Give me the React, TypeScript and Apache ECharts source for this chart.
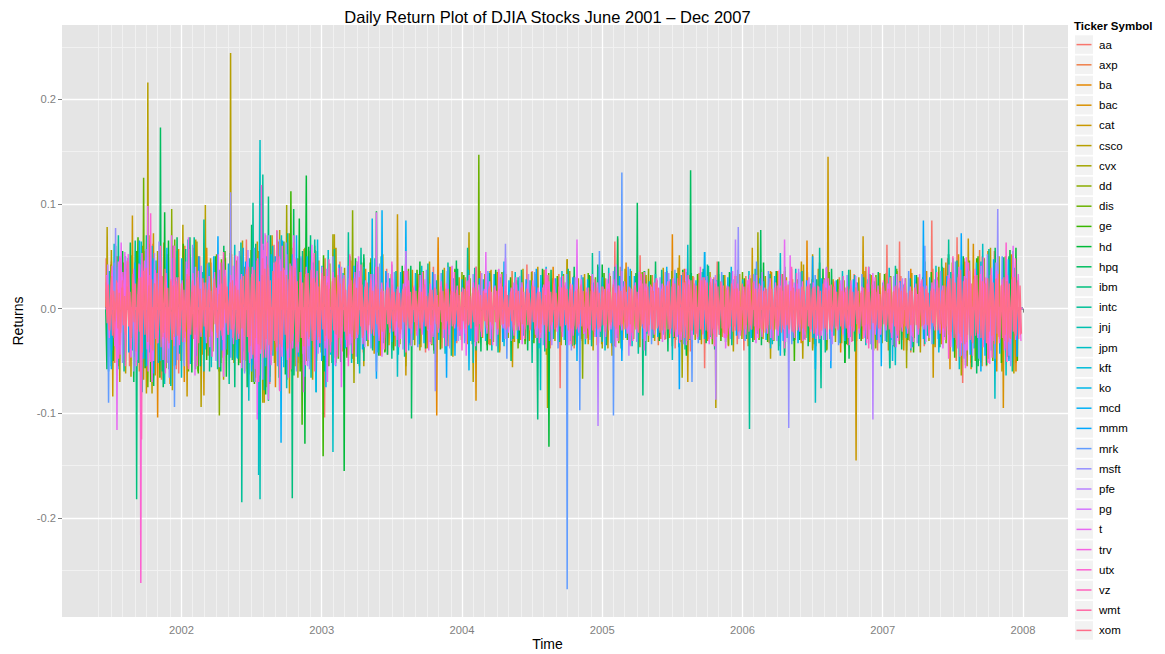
import React, { useEffect, useRef } from "react";
import * as echarts from "echarts";

// ---------- DATA ----------
const tickers = ["aa","axp","ba","bac","cat","csco","cvx","dd","dis","ge","hd","hpq","ibm","intc","jnj","jpm","kft","ko","mcd","mmm","mrk","msft","pfe","pg","t","trv","utx","vz","wmt","xom"];
const xTickYears = [2002, 2003, 2004, 2005, 2006, 2007, 2008];
const yTickValues = [-0.2, -0.1, 0, 0.1, 0.2];
const yMinorValues = [-0.25, -0.15, -0.05, 0.05, 0.15, 0.25];

// dense series (returns in thousandths)
const xomDense = [
18,-14,23,-21,13,-26,17,-12,27,-19,15,-23,20,-16,12,-25,21,-17,16,-28,19,-13,24,-20,14,-22,
30,-42,36,-25,39,-32,22,-35,28,-40,24,-29,34,-21,27,-37,31,-23,38,-28,20,-33,26,-30,22,-27,
21,-26,30,-17,24,-32,18,-22,28,-20,31,-25,16,-29,22,-18,26,-33,19,-23,29,-17,25,-21,18,-27,
17,-22,25,-15,20,-28,14,-21,24,-18,29,-14,21,-25,17,-20,27,-15,22,-30,18,-24,28,-19,31,-26,
33,-27,40,-36,30,-44,37,-28,46,-34,26,-39,32,-47,38,-29,42,-35,27,-40,36,-31,45,-37,29,-34,
36,-30,39,-25,32,-38,28,-33,41,-24,31,-37,26,-32,35,-28,25,-36,30,-22,34,-27,24,-31,29,-21,
25,-30,21,-33,28,-20,31,-26,22,-29,19,-32,26,-21,30,-25,20,-28,24,-17,29,-22,18,-26,21,-24,
27,-21,24,-29,20,-25,30,-17,23,-26,18,-21,25,-16,20,-24,17,-22,21,-15,19,-20,16,-22,17,-19,
18,-15,20,-19,14,-22,16,-12,19,-18,15,-20,17,-13,21,-16,12,-19,16,-14,20,-13,17,-16,15,-19,
16,-13,19,-17,12,-20,15,-16,18,-12,20,-15,13,-19,16,-13,17,-20,15,-12,19,-16,13,-17,16,-15,
15,-17,13,-20,16,-12,19,-15,17,-16,12,-19,15,-13,20,-17,16,-15,13,-19,17,-12,15,-16,19,-13,
16,-15,20,-13,17,-19,12,-16,21,-15,17,-20,13,-17,16,-12,19,-16,15,-21,17,-13,20,-15,16,-17,
19,-16,15,-20,17,-13,21,-17,15,-19,16,-15,20,-16,13,-17,19,-22,16,-13,17,-20,15,-16,21,-17,
20,-17,22,-16,19,-21,15,-19,23,-17,16,-20,19,-15,21,-17,17,-22,15,-19,20,-16,17,-21,16,-19,
17,-20,15,-17,21,-16,19,-15,17,-21,16,-13,20,-17,15,-19,22,-16,17,-15,19,-20,16,-17,21,-15,
19,-17,22,-20,16,-23,20,-17,24,-19,17,-22,21,-16,23,-20,17,-21,25,-19,20,-23,17,-21,22,-19,
22,-20,26,-19,21,-27,24,-20,29,-25,32,-22,35,-28,26,-31,23,-29,27,-21,30,-25,22,-27,25,-20,
27,-24,30,-21,25,-29,22,-26,28,-20,24,-27,21,-25,26,-19,22,-24,20,-26,21,-17,24,-22,19,-21,
20,-22,17,-21,24,-19,21,-16,20,-22,17,-20,25,-17,19,-21,16,-19,22,-20,17,-23,19,-16,21,-20,
19,-21,16,-20,22,-17,20,-23,17,-19,21,-16,23,-20,17,-22,20,-17,16,-21,19,-15,20,-19,17,-22,
21,-17,23,-20,19,-24,21,-19,22,-25,17,-21,24,-19,20,-22,17,-20,23,-17,21,-19,16,-20,19,-17,
17,-20,15,-19,21,-16,19,-17,16,-21,20,-15,17,-19,15,-17,20,-16,19,-15,16,-20,17,-14,19,-16,
16,-19,14,-17,20,-15,17,-16,15,-20,19,-14,16,-17,22,-25,19,-21,17,-15,20,-17,15,-19,17,-16,
17,-15,20,-16,14,-19,16,-17,21,-15,19,-16,15,-20,17,-14,19,-17,16,-21,20,-15,17,-19,22,-17,
21,-25,29,-22,33,-28,25,-35,30,-24,37,-31,26,-34,29,-25,36,-30,24,-33,28,-26,32,-24,29,-28,
26,-30,24,-33,29,-22,32,-26,25,-34,28,-24,33,-29,22,-28,30,-25,26,-32,24,-29,28,-22,30,-26,
25,-29,22,-24
];
const wmtDense = [
25,-20,31,-28,18,-35,27,-22,45,-38,33,-41,29,-30,36,-25,32,-39,24,-33,40,-27,22,-31,28,-24,
26,-30,21,-28,33,-19,27,-25,30,-22,19,-27,24,-20,29,-23,18,-26,31,-21,25,-28,20,-24,27,-22,
38,-42,33,-47,40,-35,48,-39,31,-44,36,-33,42,-37,30,-40,35,-31,39,-34,28,-36,33,-29,37,-30,
30,-27,34,-31,25,-35,29,-24,32,-28,26,-30,23,-27,29,-22,25,-28,21,-24,27,-20,23,-25,19,-22,
20,-18,23,-21,17,-24,19,-16,22,-19,18,-21,16,-20,23,-17,19,-22,15,-18,21,-16,19,-20,17,-15,
18,-21,16,-19,22,-15,20,-17,18,-22,15,-19,21,-16,17,-20,19,-15,22,-18,16,-21,18,-17,20,-16,
19,-17,22,-20,16,-23,18,-19,21,-16,24,-18,17,-22,20,-15,19,-21,17,-18,23,-19,16,-20,18,-22,
20,-18,17,-22,19,-16,23,-20,18,-17,21,-19,16,-23,20,-18,22,-15,19,-21,17,-20,24,-17,19,-18,
21,-19,24,-22,18,-25,20,-17,23,-21,19,-24,17,-20,22,-18,25,-19,21,-16,20,-23,18,-19,22,-17,
19,-21,17,-20,23,-16,21,-18,19,-22,16,-19,24,-17,20,-21,18,-16,22,-19,17,-23,19,-18,21,-20,
22,-18,20,-24,17,-21,23,-19,18,-22,21,-17,19,-20,16,-23,22,-18,20,-19,17,-21,19,-16,23,-20,
18,-20,22,-17,19,-23,17,-21,20,-18,24,-19,17,-22,19,-20,21,-16,18,-23,20,-17,22,-19,18,-21,
26,-30,28,-24,33,-27,25,-32,29,-26,31,-23,27,-30,24,-28,32,-25,29,-27,23,-31,26,-28,30,-24,
27,-25
];
const trvDense = [
32,-28,41,-36,25,-44,35,-30,52,-47,38,-55,43,-35,46,-39,30,-42,37,-33,45,-29,34,-38,27,-36,
30,-35,27,-32,38,-24,34,-29,36,-27,25,-33,31,-26,35,-28,23,-30,37,-25,32,-34,26,-29,33,-27,
45,-52,40,-58,48,-43,56,-47,39,-54,44,-41,50,-46,37,-49,43,-38,47,-42,35,-44,40,-36,45,-37,
36,-33,40,-38,31,-42,35,-30,39,-34,32,-37,29,-33,35,-28,31,-34,27,-30,33,-26,29,-31,25,-28,
25,-23,28,-26,21,-29,24,-20,27,-24,22,-26,20,-25,28,-21,24,-27,19,-23,26,-20,24,-25,21,-19,
22,-26,20,-24,27,-19,25,-21,23,-27,19,-24,26,-20,22,-25,24,-19,27,-23,20,-26,23,-21,25,-20,
24,-21,27,-25,20,-28,23,-24,26,-20,29,-22,21,-27,25,-19,24,-26,21,-23,28,-24,20,-25,23,-27,
25,-22,21,-27,24,-20,28,-25,22,-21,26,-24,20,-28,25,-22,27,-19,24,-26,21,-25,29,-21,24,-22,
26,-24,29,-27,22,-30,25,-21,28,-26,24,-29,21,-25,27,-22,30,-24,26,-20,25,-28,22,-24,27,-21,
24,-26,21,-25,28,-20,26,-23,24,-27,20,-24,29,-21,25,-26,22,-20,27,-24,21,-28,24,-22,26,-25,
27,-22,25,-29,21,-26,28,-24,22,-27,26,-21,24,-25,20,-28,27,-22,25,-24,21,-26,24,-20,28,-25,
22,-25,27,-21,24,-28,21,-26,25,-22,29,-24,21,-27,24,-25,26,-20,22,-28,25,-21,27,-24,22,-26,
32,-37,35,-30,40,-33,31,-39,36,-32,38,-28,33,-37,30,-34,39,-31,36,-33,28,-38,32,-34,37,-30,
33,-31
];

// notable daily moves [decimal year, return in thousandths]
const aaMoves = [[2001.52,-48],[2001.6,42],[2001.74,55],[2001.98,-62],[2002.12,50],[2002.21,44],[2002.47,-58],[2002.56,-119],[2002.66,61],[2002.83,-52],[2003.02,-104],[2003.2,47],[2003.47,-44],[2003.74,-42],[2004.27,-40],[2004.5,36],[2004.7,-76],[2005.09,64],[2005.27,51],[2005.52,-38],[2005.73,-57],[2005.82,45],[2006.01,-40],[2006.35,38],[2006.73,-50],[2007.03,61],[2007.12,64],[2007.35,84],[2007.53,68],[2007.57,-71],[2007.71,50],[2007.9,-48]];
const axpMoves = [[2001.5,45],[2001.71,-75],[2001.77,62],[2002.0,-50],[2002.3,42],[2002.53,-66],[2002.6,70],[2002.75,-58],[2002.92,55],[2003.18,-45],[2003.4,40],[2003.9,-36],[2004.3,35],[2004.8,-38],[2005.11,67],[2005.4,-35],[2005.95,33],[2006.5,-38],[2006.88,40],[2007.2,-42],[2007.58,48],[2007.74,-55],[2007.95,-52]];
const baMoves = [[2001.53,38],[2001.7,-60],[2001.83,-104],[2001.9,52],[2002.02,-70],[2002.18,58],[2002.4,-45],[2002.55,55],[2002.67,-75],[2002.85,48],[2003.1,-52],[2003.3,44],[2003.82,-102],[2003.83,68],[2004.2,-35],[2004.65,40],[2005.17,44],[2005.5,71],[2005.9,-36],[2006.46,65],[2006.7,-42],[2007.2,38],[2007.6,-45],[2007.95,-60]];
const bacMoves = [[2001.58,42],[2001.73,-68],[2001.95,48],[2002.15,-44],[2002.45,40],[2002.56,-72],[2002.7,66],[2002.9,-50],[2003.25,45],[2003.6,-38],[2004.1,-88],[2004.26,37],[2004.9,-34],[2005.3,33],[2005.64,-40],[2006.2,36],[2006.6,-32],[2007.15,-40],[2007.45,44],[2007.63,-58],[2007.75,55],[2007.86,-95],[2007.92,50]];
const catMoves = [[2001.51,-84],[2001.65,89],[2001.75,-81],[2001.8,72],[2002.04,-84],[2002.16,-83],[2002.35,55],[2002.59,-90],[2002.77,-81],[2002.95,60],[2003.22,-48],[2003.54,90],[2003.6,-64],[2004.36,-56],[2004.75,47],[2005.55,51],[2005.61,-70],[2006.07,58],[2006.42,45],[2006.61,145],[2006.81,-145],[2006.86,69],[2007.36,-66],[2007.61,67],[2007.8,-50]];
const cscoMoves = [[2001.47,78],[2001.5,56],[2001.56,-70],[2001.64,-65],[2001.76,216],[2001.79,-81],[2002.01,80],[2002.14,-94],[2002.17,99],[2002.3,-68],[2002.35,244],[2002.45,-60],[2002.7,75],[2002.83,-66],[2003.09,71],[2003.3,-55],[2003.6,-55],[2004.05,73],[2004.08,-70],[2004.75,47],[2005.07,-45],[2005.81,-95],[2006.2,-48],[2006.43,-48],[2006.5,52],[2007.17,-40],[2007.85,-60]];
const cvxMoves = [[2001.55,-55],[2001.72,60],[2001.92,-58],[2002.11,64],[2002.28,-52],[2002.58,-90],[2002.75,99],[2003.08,71],[2003.23,-71],[2003.7,-40],[2004.2,36],[2004.61,-95],[2005.0,-38],[2005.57,-66],[2006.11,73],[2006.5,-40],[2007.17,-57],[2007.56,-64],[2007.9,48]];
const ddMoves = [[2001.6,50],[2001.8,-66],[2001.93,95],[2002.1,-55],[2002.27,-102],[2002.42,50],[2002.63,-65],[2002.88,58],[2003.22,94],[2003.5,-38],[2004.0,35],[2004.86,-67],[2005.33,38],[2005.9,-35],[2006.3,36],[2006.95,-38],[2007.4,40],[2007.7,-52]];
const disMoves = [[2001.56,48],[2001.73,125],[2001.76,-75],[2002.05,-60],[2002.25,52],[2002.5,-70],[2002.73,64],[2003.05,-55],[2003.35,48],[2003.8,-40],[2004.12,147],[2004.4,-38],[2004.9,34],[2005.5,-36],[2006.0,35],[2006.6,-40],[2007.1,38],[2007.66,-50],[2007.88,45]];
const geMoves = [[2001.54,-52],[2001.69,68],[2001.78,-70],[2001.94,60],[2002.12,-62],[2002.31,55],[2002.52,-72],[2002.78,112],[2002.86,-111],[2003.01,-141],[2003.2,50],[2003.45,-42],[2003.95,38],[2004.45,-34],[2005.3,36],[2006.37,-50],[2006.73,-52],[2007.22,-42],[2007.67,48],[2007.96,-50]];
const hdMoves = [[2001.58,55],[2001.72,-75],[2001.88,92],[2002.1,-58],[2002.32,-65],[2002.6,-82],[2002.84,86],[2002.88,-129],[2002.89,127],[2003.16,-155],[2003.39,93],[2003.7,45],[2004.18,-40],[2004.62,-132],[2005.0,42],[2005.6,-45],[2006.15,44],[2006.73,-52],[2007.3,45],[2007.68,-55],[2007.95,58]];
const hpqMoves = [[2001.53,60],[2001.66,-70],[2001.85,173],[2001.87,-75],[2002.06,68],[2002.28,-60],[2002.5,80],[2002.62,-88],[2002.8,95],[2003.02,-60],[2003.3,52],[2003.64,-105],[2003.96,46],[2004.35,-50],[2004.8,40],[2005.11,69],[2005.25,101],[2005.38,45],[2005.63,132],[2005.83,45],[2006.13,75],[2006.3,-45],[2006.76,-48],[2007.47,52],[2007.67,-62],[2007.9,50]];
const ibmMoves = [[2001.5,-55],[2001.68,-182],[2001.75,70],[2001.97,55],[2002.2,-60],[2002.38,-75],[2002.62,107],[2002.79,-181],[2002.92,70],[2003.3,-50],[2003.6,45],[2004.1,-40],[2004.54,-106],[2004.97,40],[2005.29,-83],[2005.72,38],[2006.3,-42],[2006.55,44],[2007.05,-57],[2007.42,48],[2007.8,-55]];
const intcMoves = [[2001.55,70],[2001.67,65],[2001.71,-95],[2001.91,-58],[2002.16,85],[2002.34,-72],[2002.43,-185],[2002.51,101],[2002.58,128],[2002.7,-78],[2002.95,66],[2003.19,73],[2003.28,58],[2003.5,-48],[2003.9,44],[2004.04,58],[2004.5,-52],[2004.93,53],[2005.31,-45],[2005.75,42],[2006.05,-115],[2006.55,58],[2006.56,-76],[2007.05,-57],[2007.47,66],[2007.8,-52]];
const jnjMoves = [[2001.6,-42],[2001.8,48],[2002.05,-40],[2002.3,44],[2002.56,-182],[2002.65,60],[2002.9,-48],[2003.3,40],[2003.8,-34],[2004.4,30],[2005.0,-32],[2005.6,35],[2006.2,-30],[2006.8,32],[2007.3,-34],[2007.7,38]];
const jpmMoves = [[2001.52,62],[2001.72,-80],[2001.79,60],[2002.0,-66],[2002.16,-60],[2002.48,-88],[2002.55,-159],[2002.56,161],[2002.68,74],[2002.75,-76],[2002.96,-80],[2003.08,-137],[2003.27,-62],[2003.54,-65],[2004.08,-52],[2004.56,-78],[2005.02,-40],[2005.5,-49],[2005.61,61],[2006.27,53],[2006.52,-90],[2007.09,-54],[2007.2,-40],[2007.8,-86],[2007.93,55]];
const kftMoves = [[2001.6,45],[2001.85,-50],[2002.2,40],[2002.6,-55],[2002.97,66],[2003.4,-42],[2003.9,38],[2004.3,-36],[2005.2,38],[2005.73,54],[2006.2,-38],[2006.9,40],[2007.4,-42],[2007.7,45]];
const koMoves = [[2001.55,40],[2001.75,-55],[2002.05,46],[2002.4,-48],[2002.64,52],[2002.96,-80],[2003.36,86],[2003.62,-40],[2004.05,-59],[2004.6,40],[2005.14,-40],[2005.92,40],[2006.52,-58],[2007.07,-50],[2007.8,-60]];
const mcdMoves = [[2001.5,-58],[2001.7,65],[2001.95,-55],[2002.23,50],[2002.44,58],[2002.63,-70],[2002.71,-128],[2002.82,70],[2003.03,-75],[2003.43,94],[2003.6,84],[2003.95,-45],[2004.3,45],[2004.82,-50],[2005.46,40],[2005.73,54],[2006.27,-45],[2006.99,-55],[2007.5,48],[2007.7,-60]];
const mmmMoves = [[2001.48,-60],[2001.62,48],[2001.8,-62],[2002.08,50],[2002.26,69],[2002.5,-60],[2002.72,65],[2003.0,-50],[2003.39,-67],[2003.6,40],[2003.89,-66],[2004.53,38],[2005.14,-50],[2005.55,-77],[2006.5,50],[2006.63,-57],[2007.29,84],[2007.56,72],[2007.9,-50]];
const mrkMoves = [[2001.48,-90],[2001.6,50],[2001.95,-94],[2002.3,45],[2002.52,-70],[2002.7,66],[2003.1,-55],[2003.39,-60],[2003.9,40],[2004.32,-48],[2004.75,-268],[2004.84,-97],[2004.98,55],[2005.08,-102],[2005.14,130],[2005.64,-70],[2006.1,45],[2006.63,-50],[2007.3,60],[2007.56,-45],[2007.8,-48]];
const msftMoves = [[2001.53,77],[2001.66,-60],[2001.84,64],[2002.02,-55],[2002.35,111],[2002.45,-62],[2002.62,70],[2002.82,-60],[2003.04,-70],[2003.5,42],[2003.81,-79],[2004.31,62],[2004.78,-40],[2005.45,35],[2005.97,78],[2006.33,-114],[2006.6,40],[2007.07,-35],[2007.82,95],[2007.9,-45]];
const pfeMoves = [[2001.62,48],[2001.9,-52],[2002.27,-56],[2002.58,62],[2002.9,-55],[2003.25,45],[2003.6,-40],[2004.31,48],[2004.97,-112],[2005.19,-45],[2005.81,-87],[2005.95,66],[2006.4,38],[2006.93,-106],[2007.2,-38],[2007.6,45]];
const pgMoves = [[2001.55,45],[2001.8,-50],[2002.1,40],[2002.5,-48],[2002.75,52],[2003.1,-40],[2003.6,35],[2004.1,-32],[2004.7,30],[2005.1,42],[2005.6,-35],[2006.1,32],[2006.6,-30],[2007.1,33],[2007.6,-40]];
const tMoves = [[2001.54,-116],[2001.57,63],[2001.76,98],[2001.79,-70],[2001.95,60],[2002.05,68],[2002.3,-65],[2002.54,-106],[2002.62,-87],[2002.8,70],[2002.87,-80],[2003.04,-70],[2003.14,-75],[2003.39,92],[2003.6,55],[2004.03,-45],[2004.17,54],[2004.82,66],[2005.3,-40],[2005.88,-38],[2006.3,66],[2006.34,51],[2007.59,-57],[2007.93,60]];
const utxMoves = [[2001.56,50],[2001.71,-262],[2001.78,91],[2002.05,-55],[2002.4,50],[2002.57,118],[2002.7,-79],[2002.8,63],[2003.19,-55],[2003.5,45],[2004.0,-40],[2004.6,38],[2005.2,-36],[2005.7,40],[2006.3,-38],[2006.9,40],[2007.47,-48],[2007.88,63]];
const vzMoves = [[2001.6,-55],[2001.715,-125],[2001.85,60],[2002.05,-58],[2002.3,54],[2002.55,-70],[2002.68,75],[2002.95,-60],[2003.2,52],[2003.6,-42],[2004.1,40],[2004.6,-38],[2005.3,35],[2005.8,-36],[2006.35,40],[2006.9,-38],[2007.5,50],[2007.75,-52]];

// typical larger move in each two-month block (thousandths)
const aaSwing = [48,-55,62,-58,50,-47,66,-72,58,-50,45,-42,38,-35,40,-33,36,-30,42,-38,31,-35,40,-32,36,-41,30,-34,38,-29,35,-37,33,-40,31,-36,48,-52,55];
const axpSwing = [-52,47,-68,60,-45,52,-70,64,-58,48,-44,40,-36,33,-38,30,-34,36,-28,33,-31,29,-35,32,-30,34,-27,31,-33,28,-36,30,-29,34,-31,38,-50,56,-58];
const baSwing = [44,-50,-72,58,46,-52,60,-68,55,-47,42,-45,36,-38,40,-32,35,-30,37,-34,31,-36,33,-29,38,-31,34,-30,36,-33,29,-35,32,-37,30,-34,45,-48,52];
const bacSwing = [-46,51,-64,57,-42,48,-63,70,-55,46,-41,38,-35,37,-33,30,-28,33,-31,29,-34,27,-30,32,-28,31,-26,33,-29,30,-32,28,-31,34,-30,36,-58,62,-60];
const catSwing = [50,-56,63,-60,48,-52,64,-61,57,-49,46,-43,40,-37,39,-34,37,-32,40,-35,33,-38,36,-31,39,-34,32,-36,35,-30,38,-33,36,-40,34,-37,52,-55,50];
const cscoSwing = [-62,70,-78,66,-60,65,-75,72,-68,58,-55,52,-48,45,-46,40,-42,38,-44,36,-40,41,-37,39,-43,35,-41,38,-36,42,-39,37,-40,36,-42,39,-55,58,-62];
const cvxSwing = [42,-46,55,-50,40,-44,56,-52,48,-42,39,-36,33,-35,32,-30,33,-28,35,-31,29,-34,38,-32,36,-30,33,-29,31,-34,28,-32,30,-33,29,-31,44,-47,50];
const ddSwing = [-44,48,-57,52,-41,46,-58,55,-50,43,-40,37,-34,36,-31,29,-32,27,-30,33,-28,31,-29,27,-32,30,-26,29,-31,28,-30,27,-29,31,-28,30,-45,48,-46];
const disSwing = [48,-52,66,-60,47,-50,64,-60,56,-48,44,-41,38,-35,37,-33,35,-31,34,-36,30,-33,35,-29,32,-34,31,-30,33,-28,35,-31,32,-34,30,-33,46,-50,48];
const geSwing = [-50,55,-66,62,-49,53,-70,66,-60,51,-47,44,-40,37,-39,32,-35,30,-33,31,-29,34,-30,32,-28,33,-31,29,-32,30,-34,28,-31,33,-30,35,-47,50,-52];
const hdSwing = [52,-57,65,-61,50,-54,68,-63,59,-52,48,-45,41,-38,40,-34,37,-33,38,-35,32,-36,34,-31,37,-33,35,-32,36,-30,38,-34,33,-36,32,-37,50,-54,56];
const hpqSwing = [-58,63,-74,68,-55,60,-75,70,-64,55,-51,48,-44,41,-43,38,-41,36,-40,37,-35,42,-38,36,-41,34,-39,37,-35,40,-36,38,-41,35,-39,37,52,-56,58];
const ibmSwing = [46,-52,-60,57,44,-49,62,-66,55,-46,43,-40,36,-34,37,-31,34,-29,33,-32,30,-35,31,-28,34,-30,32,-29,33,-31,28,-33,30,-32,29,-34,46,-50,49];
const intcSwing = [-60,66,-74,68,-58,63,-78,72,-66,57,-53,50,-46,43,-45,39,-42,37,-41,38,-36,40,-43,37,-39,41,-35,38,-40,36,-42,37,-39,41,-36,40,-54,57,-60];
const jnjSwing = [36,-40,46,-43,35,-39,48,-45,42,-37,34,-31,29,-30,27,-26,28,-25,27,-29,24,-27,26,-24,28,-25,27,-23,26,-28,24,-26,25,-27,23,-26,35,-38,37];
const jpmSwing = [-58,64,-72,66,-56,61,-76,70,-65,56,-52,48,-44,41,-43,37,-40,35,-38,36,-34,39,-36,33,-37,35,-32,36,-34,38,-33,36,-35,39,-37,41,-58,62,-64];
const kftSwing = [38,-42,48,-45,37,-41,50,-47,44,-39,36,-33,30,-32,29,-27,30,-26,29,-31,25,-28,27,-25,29,-27,28,-24,27,-29,25,-27,26,-28,24,-27,38,-40,39];
const koSwing = [-40,44,-52,48,-39,43,-54,50,-46,41,-38,35,-32,34,-30,28,-31,27,-30,29,-26,30,-28,26,-29,27,-25,28,-30,26,-28,27,-29,25,-28,30,-41,44,-43];
const mcdSwing = [44,-48,58,-53,42,-47,60,-56,50,-44,41,-38,35,-33,36,-31,33,-29,32,-30,28,-33,31,-27,32,-29,30,-28,31,-33,29,-31,28,-30,32,-29,42,-45,47];
const mmmSwing = [-42,46,-54,50,-40,45,-56,52,-47,42,-39,36,-33,35,-31,29,-32,28,-31,30,-27,31,-29,27,-30,28,-26,29,-31,27,-29,28,-30,26,-29,31,-44,47,-46];
const mrkSwing = [44,-49,56,-52,43,-47,58,-55,50,-45,41,-38,35,-37,34,-33,36,-31,35,-38,32,-36,40,-34,37,-33,35,-31,36,-34,32,-35,33,-31,36,-34,45,-48,50];
const msftSwing = [-52,57,-66,61,-50,55,-68,63,-58,50,-46,43,-39,37,-38,33,-36,31,-35,33,-30,36,-32,30,-34,31,-29,33,-31,35,-30,32,-34,31,-33,36,-48,52,-55];
const pfeSwing = [42,-46,53,-49,41,-45,56,-52,48,-43,40,-37,34,-36,33,-31,34,-29,33,-35,30,-33,36,-31,34,-30,32,-29,35,-32,30,-34,31,-33,29,-32,42,-45,44];
const pgSwing = [-38,42,-49,45,-37,41,-51,47,-43,38,-35,33,-30,32,-28,26,-29,25,-28,27,-24,28,-26,25,-27,26,-23,27,-28,25,-26,27,-28,24,-26,28,-38,41,-40];
const tSwing = [54,-60,70,-64,52,-57,72,-66,61,-54,50,-46,42,-40,41,-36,38,-34,37,-35,33,-37,35,-32,38,-34,36,-33,37,-31,39,-35,34,-37,33,-38,49,-53,55];
const utxSwing = [-48,53,-62,57,-46,51,-64,60,-54,47,-43,40,-37,35,-36,32,-35,30,-33,31,-29,34,-31,29,-33,30,-28,32,-30,34,-29,31,-33,30,-32,35,-46,49,-51];
const vzSwing = [46,-51,60,-55,44,-49,63,-58,53,-46,42,-39,36,-34,35,-31,33,-29,32,-34,28,-31,33,-30,32,-29,31,-28,33,-30,29,-32,30,-31,28,-30,44,-47,48];

const movesByTicker = {
  aa: aaMoves, axp: axpMoves, ba: baMoves, bac: bacMoves, cat: catMoves, csco: cscoMoves,
  cvx: cvxMoves, dd: ddMoves, dis: disMoves, ge: geMoves, hd: hdMoves, hpq: hpqMoves,
  ibm: ibmMoves, intc: intcMoves, jnj: jnjMoves, jpm: jpmMoves, kft: kftMoves, ko: koMoves,
  mcd: mcdMoves, mmm: mmmMoves, mrk: mrkMoves, msft: msftMoves, pfe: pfeMoves, pg: pgMoves,
  t: tMoves, utx: utxMoves, vz: vzMoves,
};
const swingByTicker = {
  aa: aaSwing, axp: axpSwing, ba: baSwing, bac: bacSwing, cat: catSwing, csco: cscoSwing,
  cvx: cvxSwing, dd: ddSwing, dis: disSwing, ge: geSwing, hd: hdSwing, hpq: hpqSwing,
  ibm: ibmSwing, intc: intcSwing, jnj: jnjSwing, jpm: jpmSwing, kft: kftSwing, ko: koSwing,
  mcd: mcdSwing, mmm: mmmSwing, mrk: mrkSwing, msft: msftSwing, pfe: pfeSwing, pg: pgSwing,
  t: tSwing, utx: utxSwing, vz: vzSwing,
};
const denseByTicker = {
  xom: { values: xomDense, step: 1 / 104, offset: 0 },
  wmt: { values: wmtDense, step: 1 / 52, offset: 1 / 312 },
  trv: { values: trvDense, step: 1 / 52, offset: 2 / 312 },
};

const START = 2001.46;
const END = 2007.995;
const DAY = 1 / 252;
const SWING_STEP = 1 / 6;

// ---------- STYLE HELPERS ----------
function hclHex(h, c = 100, l = 65) {
  const rad = (h * Math.PI) / 180;
  const U = c * Math.cos(rad), V = c * Math.sin(rad);
  const Xn = 95.047, Yn = 100.0, Zn = 108.883;
  const Y = Yn * Math.pow((l + 16) / 116, 3);
  const d = Xn + 15 * Yn + 3 * Zn;
  const un = (4 * Xn) / d, vn = (9 * Yn) / d;
  const up = U / (13 * l) + un, vp = V / (13 * l) + vn;
  const X = (Y * 9 * up) / (4 * vp);
  const Z = (Y * (12 - 3 * up - 20 * vp)) / (4 * vp);
  const x = X / 100, y = Y / 100, z = Z / 100;
  const lin = [
    3.240479 * x - 1.53715 * y - 0.498535 * z,
    -0.969256 * x + 1.875992 * y + 0.041556 * z,
    0.055648 * x - 0.204043 * y + 1.057311 * z,
  ];
  const toHex = (t) => {
    let v = Math.max(0, Math.min(1, t));
    v = v <= 0.0031308 ? 12.92 * v : 1.055 * Math.pow(v, 1 / 2.4) - 0.055;
    const n = Math.round(Math.max(0, Math.min(1, v)) * 255);
    return n.toString(16).padStart(2, "0");
  };
  return "#" + lin.map(toHex).join("");
}
const colors = tickers.map((_, i) => hclHex(15 + (360 / 30) * i));

function yearFrac(y, m) {
  const t0 = Date.UTC(y, 0, 1), t1 = Date.UTC(y + 1, 0, 1);
  return y + (Date.UTC(y, m, 1) - t0) / (t1 - t0);
}

function spikeLine(moves, swing, idx) {
  const phase = ((idx * 11) % 30) / 30 + 0.017;
  const all = [...moves];
  swing.forEach((v, k) => {
    const t = START + (k + phase) * SWING_STEP;
    if (t < END - DAY) all.push([t, v]);
  });
  all.sort((a, b) => a[0] - b[0]);
  const pts = [[START, 0]];
  for (const [t, v] of all) {
    pts.push([t - DAY, 0], [t, v / 1000], [t + DAY, 0]);
  }
  pts.push([END, 0]);
  return pts;
}
function denseLine(spec) {
  return spec.values.map((v, i) => [START + spec.offset + i * spec.step, v / 1000]);
}

const FONT = '"Liberation Sans", Arial, Helvetica, sans-serif';

export default function App() {
  const ref = useRef(null);
  useEffect(() => {
    const chart = echarts.init(ref.current, null, { renderer: "svg" });

    const majorX = xTickYears.map((yv) => ({ xAxis: yv, lineStyle: { color: "#FFFFFF", width: 1.3, type: "solid" } }));
    const minorX = [];
    for (let y = 2001; y <= 2007; y++) {
      for (let m = 1; m < 12; m++) {
        if (y === 2001 && m < 5) continue;
        minorX.push({ xAxis: yearFrac(y, m), lineStyle: { color: "#F2F2F2", width: 0.9, type: "solid" } });
      }
    }
    const majorY = yTickValues.map((v) => ({ yAxis: v, lineStyle: { color: "#FFFFFF", width: 1.3, type: "solid" } }));
    const minorY = yMinorValues.map((v) => ({ yAxis: v, lineStyle: { color: "#F2F2F2", width: 0.9, type: "solid" } }));

    const gridSeries = {
      type: "line",
      name: "__grid",
      data: [[2005, 0]],
      symbol: "none",
      lineStyle: { opacity: 0 },
      z: 0,
      silent: true,
      markLine: {
        z: 0,
        silent: true,
        symbol: ["none", "none"],
        label: { show: false },
        animation: false,
        data: [...minorX, ...minorY, ...majorX, ...majorY],
      },
    };

    const dataSeries = tickers.map((tk, i) => {
      const dense = denseByTicker[tk];
      const data = dense ? denseLine(dense) : spikeLine(movesByTicker[tk], swingByTicker[tk], i);
      return {
        type: "line",
        name: tk,
        data,
        symbol: "none",
        showSymbol: false,
        z: 3,
        silent: true,
        lineStyle: { color: colors[i], width: dense ? 1.3 : 1.5 },
        itemStyle: { color: colors[i] },
      };
    });

    const legendChildren = [];
    tickers.forEach((tk, i) => {
      const cy = 44.6 + 20.2 * i;
      legendChildren.push({ type: "rect", shape: { x: 1075, y: cy - 9.25, width: 18, height: 18.5 }, style: { fill: "#F2F2F2" } });
      legendChildren.push({ type: "line", shape: { x1: 1076.5, y1: cy, x2: 1091.5, y2: cy }, style: { stroke: colors[i], lineWidth: 1.5 } });
      legendChildren.push({ type: "text", x: 1099, y: cy, style: { text: tk, fill: "#000000", font: `11.5px ${FONT}`, textAlign: "left", textVerticalAlign: "middle", align: "left", verticalAlign: "middle" } });
    });

    chart.setOption({
      animation: false,
      backgroundColor: "#FFFFFF",
      grid: { left: 62, top: 25, width: 1006, height: 592, show: true, backgroundColor: "#E5E5E5", borderWidth: 0 },
      xAxis: {
        type: "value",
        min: 2001.148,
        max: 2008.321,
        axisLine: { show: false },
        splitLine: { show: false },
        axisTick: { show: true, length: 4, customValues: xTickYears, lineStyle: { color: "#7F7F7F", width: 1 } },
        axisLabel: { customValues: xTickYears, margin: 7, color: "#7F7F7F", fontSize: 11.2, fontFamily: FONT, formatter: (v) => String(Math.round(v)) },
      },
      yAxis: {
        type: "value",
        min: -0.2945,
        max: 0.2708,
        axisLine: { show: false },
        splitLine: { show: false },
        axisTick: { show: true, length: 4, customValues: yTickValues, lineStyle: { color: "#7F7F7F", width: 1 } },
        axisLabel: { customValues: yTickValues, margin: 6, color: "#7F7F7F", fontSize: 11.2, fontFamily: FONT, formatter: (v) => (Math.round(v * 10) / 10).toFixed(1) },
      },
      series: [gridSeries, ...dataSeries],
      graphic: [
        { type: "text", x: 547.5, y: 17, style: { text: "Daily Return Plot of DJIA Stocks June 2001 – Dec 2007", fill: "#000000", font: `16.5px ${FONT}`, textAlign: "center", textVerticalAlign: "middle", align: "center", verticalAlign: "middle" } },
        { type: "text", x: 547.5, y: 644, style: { text: "Time", fill: "#000000", font: `14px ${FONT}`, textAlign: "center", textVerticalAlign: "middle", align: "center", verticalAlign: "middle" } },
        { type: "text", x: 18, y: 321, rotation: Math.PI / 2, style: { text: "Returns", fill: "#000000", font: `14px ${FONT}`, textAlign: "center", textVerticalAlign: "middle", align: "center", verticalAlign: "middle" } },
        { type: "text", x: 1074, y: 26, style: { text: "Ticker Symbol", fill: "#000000", font: `bold 11.5px ${FONT}`, textAlign: "left", textVerticalAlign: "middle", align: "left", verticalAlign: "middle" } },
        { type: "group", children: legendChildren },
      ],
    });
    return () => chart.dispose();
  }, []);
  return <div ref={ref} style={{ position: "fixed", left: 0, top: 0, width: 1165, height: 654 }} />;
}
